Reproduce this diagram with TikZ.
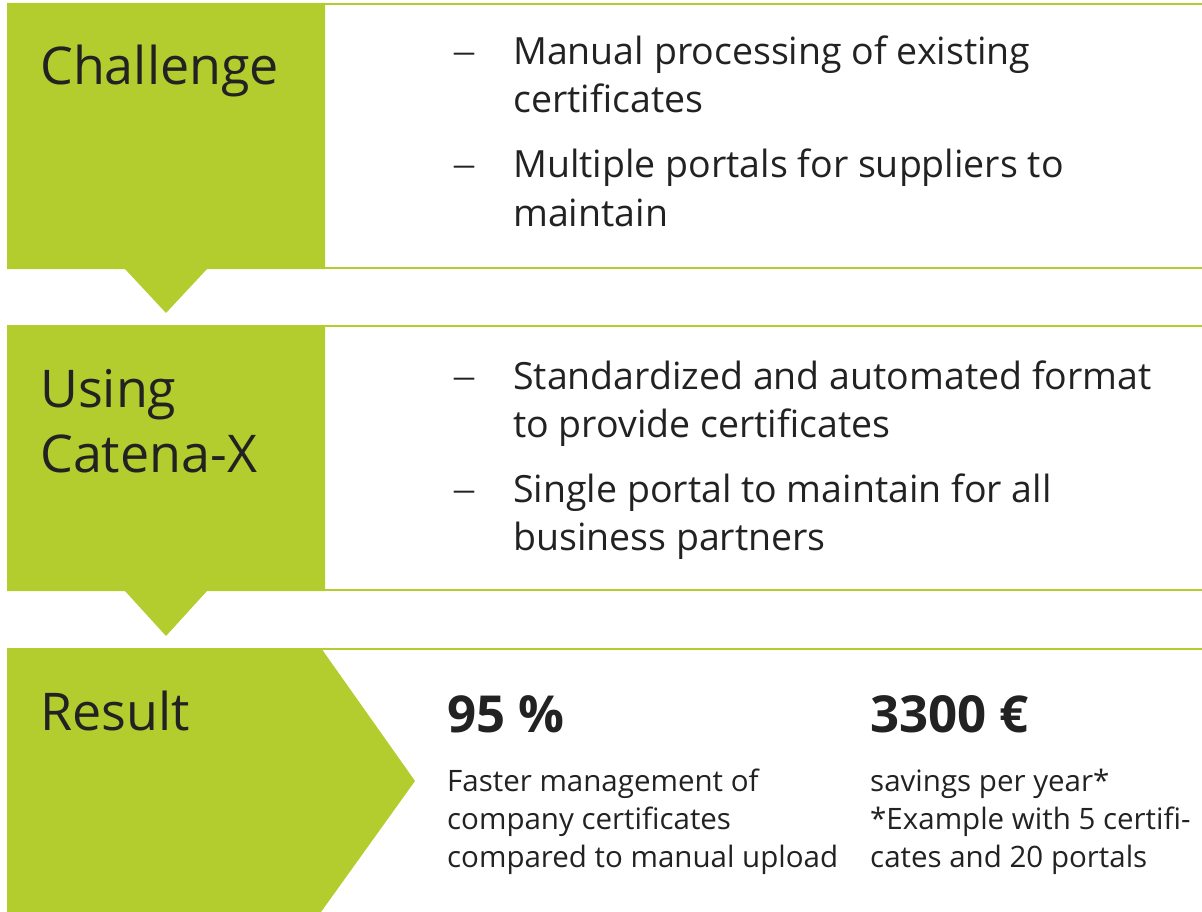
\documentclass[tikz,border=0pt]{standalone}
\usepackage{fontspec}
\setmainfont{Open Sans}
\newfontfamily\dashfont{Liberation Serif}
\usetikzlibrary{positioning}
\definecolor{cxgreen}{HTML}{B3CC2E}
\definecolor{cxtext}{HTML}{222222}

% anchors sit on the baseline of the last line
\tikzstyle{stage} = [fill=cxgreen, draw=none]
\tikzstyle{rule} = [draw=cxgreen, line width=2.2pt]
\tikzstyle{title} = [anchor=base west, inner sep=0pt, align=left, text=cxtext, font=\fontsize{52}{65}\selectfont]
\tikzstyle{item} = [anchor=base west, inner sep=0pt, align=left, text=cxtext, font=\fontsize{37.5}{48}\selectfont]
\tikzstyle{bullet} = [anchor=base west, inner sep=0pt, text=cxtext, font=\dashfont\fontsize{40}{48}\selectfont]
\tikzstyle{figure} = [anchor=base west, inner sep=0pt, text=cxtext, font=\fontsize{51}{60}\selectfont\bfseries]
\tikzstyle{note} = [anchor=base west, inner sep=0pt, align=left, text=cxtext, font=\fontsize{29.5}{38}\selectfont]

\begin{document}
\begin{tikzpicture}[x=1pt, y=-1pt]
\useasboundingbox (0,0) rectangle (1202,912);

% green stages
\fill[stage] (7,3) -- (325,3) -- (325,269) -- (207,269) -- (166,313) -- (125,269) -- (7,269) -- cycle;
\fill[stage] (7,325) -- (325,325) -- (325,591) -- (207,591) -- (166,636) -- (125,591) -- (7,591) -- cycle;
\fill[stage] (7,648) -- (321,648) -- (415,781) -- (321,912) -- (7,912) -- cycle;

% rules
\coordinate (r1a) at (325,4);   \coordinate (r1b) at (1202,4);
\coordinate (r2a) at (325,268); \coordinate (r2b) at (1202,268);
\coordinate (r3a) at (325,326); \coordinate (r3b) at (1202,326);
\coordinate (r4a) at (325,590); \coordinate (r4b) at (1202,590);
\coordinate (r5a) at (321,649); \coordinate (r5b) at (1202,649);
\draw[rule] (r1a) -- (r1b);
\draw[rule] (r2a) -- (r2b);
\draw[rule] (r3a) -- (r3b);
\draw[rule] (r4a) -- (r4b);
\draw[rule] (r5a) -- (r5b);

% titles
\node[title] (challenge) at (40,85) {Challenge};
\node[title] (using) at (40,472) {Using\\Catena-X};
\node[title] (result) at (40,730) {Result};

% challenge items
\node[bullet] (d1) at (454,64) {–};
\node[item] (manual) at (513,113) {Manual processing of existing\\certificates};
\node[bullet] (d2) at (454,177) {–};
\node[item] (portals) at (513,226) {Multiple portals for suppliers to\\maintain};

% catena-x items
\node[bullet] (d3) at (454,388) {–};
\node[item] (format) at (513,437) {Standardized and automated format\\to provide certificates};
\node[bullet] (d4) at (454,501) {–};
\node[item] (single) at (513,550) {Single portal to maintain for all\\business partners};

% results
\node[figure] (pct) at (447,732) {95 \%};
\node[note] (faster) at (447,867) {Faster management of\\company certificates\\compared to manual upload};
\node[figure] (euro) at (870,732) {3300 €};
\node[note] (savings) at (870,867) {savings per year*\\*Example with 5 certifi-\\cates and 20 portals};
\end{tikzpicture}
\end{document}
